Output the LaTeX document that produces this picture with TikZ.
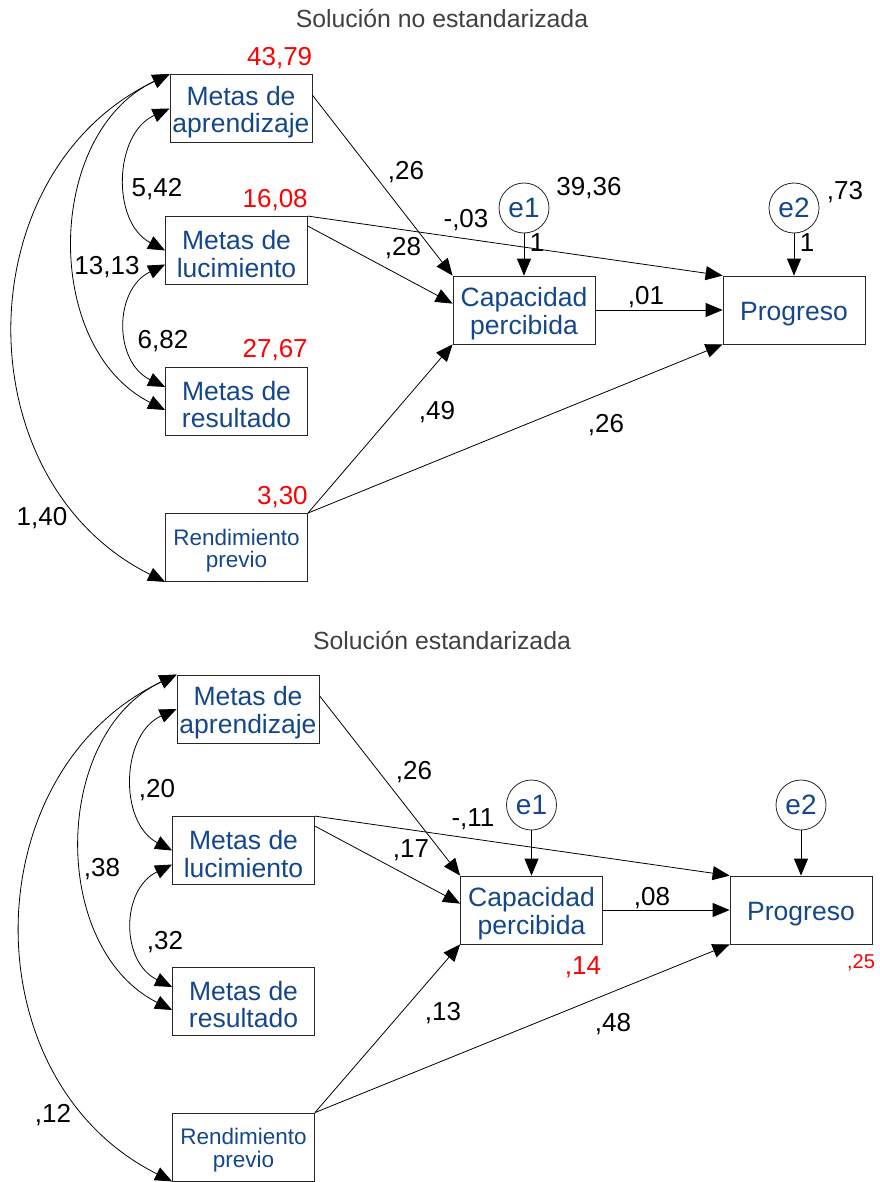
\documentclass[tikz,border=0pt]{standalone}
\usepackage{fontspec}
\setmainfont{Liberation Sans}
\usetikzlibrary{arrows.meta,calc}
\definecolor{boxblue}{RGB}{20,70,140}
\definecolor{titlegray}{RGB}{64,64,64}
\newcommand{\bigstrut}{\rule{0pt}{26.3pt}}
\newcommand{\smallstrut}{\rule{0pt}{22.4pt}}
\begin{document}
\begin{tikzpicture}[x=1pt,y=-1pt,
 var/.style={draw=black!85, line width=0.8pt, minimum width=142pt, minimum height=68pt, inner sep=0pt, align=center, text=boxblue, font=\fontsize{26.5}{27.5}\selectfont},
 smallvar/.style={var, font=\fontsize{22.5}{22.5}\selectfont},
 err/.style={circle, draw=black!85, line width=0.8pt, minimum size=50pt, inner sep=0pt, text=boxblue, font=\fontsize{28}{28}\selectfont},
 lbl/.style={inner sep=0pt, font=\fontsize{26}{27}\selectfont},
 redlbl/.style={lbl, text=red, anchor=base east},
 reg/.style={line width=0.8pt, -{Triangle[length=17pt,width=14pt]}},
 cov/.style={line width=0.8pt, {Triangle[length=17pt,width=14pt]}-{Triangle[length=17pt,width=14pt]}, bend right=64},
 ttl/.style={text=titlegray, font=\fontsize{24.8}{26}\selectfont}
]
\useasboundingbox (0,0) rectangle (879,1182);

% ---------------- top: unstandardized ----------------
\node[ttl] (t0) at (442,18) {Solución no estandarizada};
\node[var] (a1) at (241,108.5) {\bigstrut Metas de\\aprendizaje};
\node[var] (l1) at (236.5,250.5) {\bigstrut Metas de\\lucimiento};
\node[var] (r1) at (236.5,401) {\bigstrut Metas de\\resultado};
\node[smallvar] (n1) at (236.5,547.5) {\smallstrut Rendimiento\\previo};
\node[var] (c1) at (524,310) {\bigstrut Capacidad\\percibida};
\node[var] (p1) at (794,310) {\bigstrut Progreso};
\node[err] (ea1) at (524,208) {e1};
\node[err] (eb1) at (794,208) {e2};

\node[redlbl] (va1) at ($(a1.north east)+(0,-9)$) {43,79};
\node[redlbl] (vl1) at ($(l1.north east)+(0,-9)$) {16,08};
\node[redlbl] (vr1) at ($(r1.north east)+(0,-9)$) {27,67};
\node[redlbl] (vn1) at ($(n1.north east)+(0,-9)$) {3,30};

\draw[reg] ($(a1.north east)+(0,21)$) -- (c1.north west);
\draw[reg] ($(l1.north east)+(0,10)$) -- ($(c1.north west)+(0,28)$);
\draw[reg] (l1.north east) -- (p1.north west);
\draw[reg] (n1.north east) -- (c1.south west);
\draw[reg] (n1.north east) -- (p1.south west);
\draw[reg] (c1.east) -- (p1.west);
\draw[reg] (ea1.south) -- (c1.north);
\draw[reg] (eb1.south) -- (p1.north);

\draw[cov, looseness=1.1] (a1.west) to (l1.west);
\draw[cov, looseness=1.05] (a1.north west) to ($(r1.west)+(0,9)$);
\draw[cov, looseness=1.2] ($(l1.west)+(0,14)$) to ($(r1.west)+(0,-14)$);
\draw[cov, looseness=1.14] (a1.north west) to (n1.south west);

\node[lbl] (k1) at (406,172) {,26};
\node[lbl] (k2) at (403,248) {,28};
\node[lbl] (k3) at (466,220) {-,03};
\node[lbl] (k4) at (646,297) {,01};
\node[lbl] (k5) at (589,188) {39,36};
\node[lbl] (k6) at (537,243) {1};
\node[lbl] (k7) at (845,192) {,73};
\node[lbl] (k8) at (807,243) {1};
\node[lbl] (k9) at (437,412) {,49};
\node[lbl] (k10) at (606,425) {,26};
\node[lbl] (k11) at (157,189) {5,42};
\node[lbl] (k12) at (107,267) {13,13};
\node[lbl] (k13) at (163,341) {6,82};
\node[lbl] (k14) at (42,518) {1,40};

% ---------------- bottom: standardized ----------------
\node[ttl] (t2) at (442,640) {Solución estandarizada};
\node[var] (a2) at (248,709) {\bigstrut Metas de\\aprendizaje};
\node[var] (l2) at (243.5,850.5) {\bigstrut Metas de\\lucimiento};
\node[var] (r2) at (243.5,1001) {\bigstrut Metas de\\resultado};
\node[smallvar] (n2) at (243.5,1147) {\smallstrut Rendimiento\\previo};
\node[var] (c2) at (531.5,910) {\bigstrut Capacidad\\percibida};
\node[var] (p2) at (801,910) {\bigstrut Progreso};
\node[err] (ea2) at (531.5,805) {e1};
\node[err] (eb2) at (801,805) {e2};

\draw[reg] ($(a2.north east)+(0,21)$) -- (c2.north west);
\draw[reg] ($(l2.north east)+(0,10)$) -- ($(c2.north west)+(0,28)$);
\draw[reg] (l2.north east) -- (p2.north west);
\draw[reg] (n2.north east) -- (c2.south west);
\draw[reg] (n2.north east) -- (p2.south west);
\draw[reg] (c2.east) -- (p2.west);
\draw[reg] (ea2.south) -- (c2.north);
\draw[reg] (eb2.south) -- (p2.north);

\draw[cov, looseness=1.1] (a2.west) to (l2.west);
\draw[cov, looseness=1.05] (a2.north west) to ($(r2.west)+(0,9)$);
\draw[cov, looseness=1.2] ($(l2.west)+(0,14)$) to ($(r2.west)+(0,-14)$);
\draw[cov, looseness=1.14] (a2.north west) to (n2.south west);

\node[lbl] (m1) at (414,772) {,26};
\node[lbl] (m2) at (411,850) {,17};
\node[lbl] (m3) at (473,819) {-,11};
\node[lbl] (m4) at (652,898) {,08};
\node[lbl] (m5) at (443,1013) {,13};
\node[lbl] (m6) at (613,1024) {,48};
\node[lbl] (m7) at (157,790) {,20};
\node[lbl] (m8) at (102,869) {,38};
\node[lbl] (m9) at (165,942) {,32};
\node[lbl] (m10) at (53,1115) {,12};
\node[lbl, text=red] (m11) at (583,967) {,14};
\node[lbl, text=red, font=\fontsize{20}{22}\selectfont] (m12) at (861,963) {,25};
\end{tikzpicture}
\end{document}
